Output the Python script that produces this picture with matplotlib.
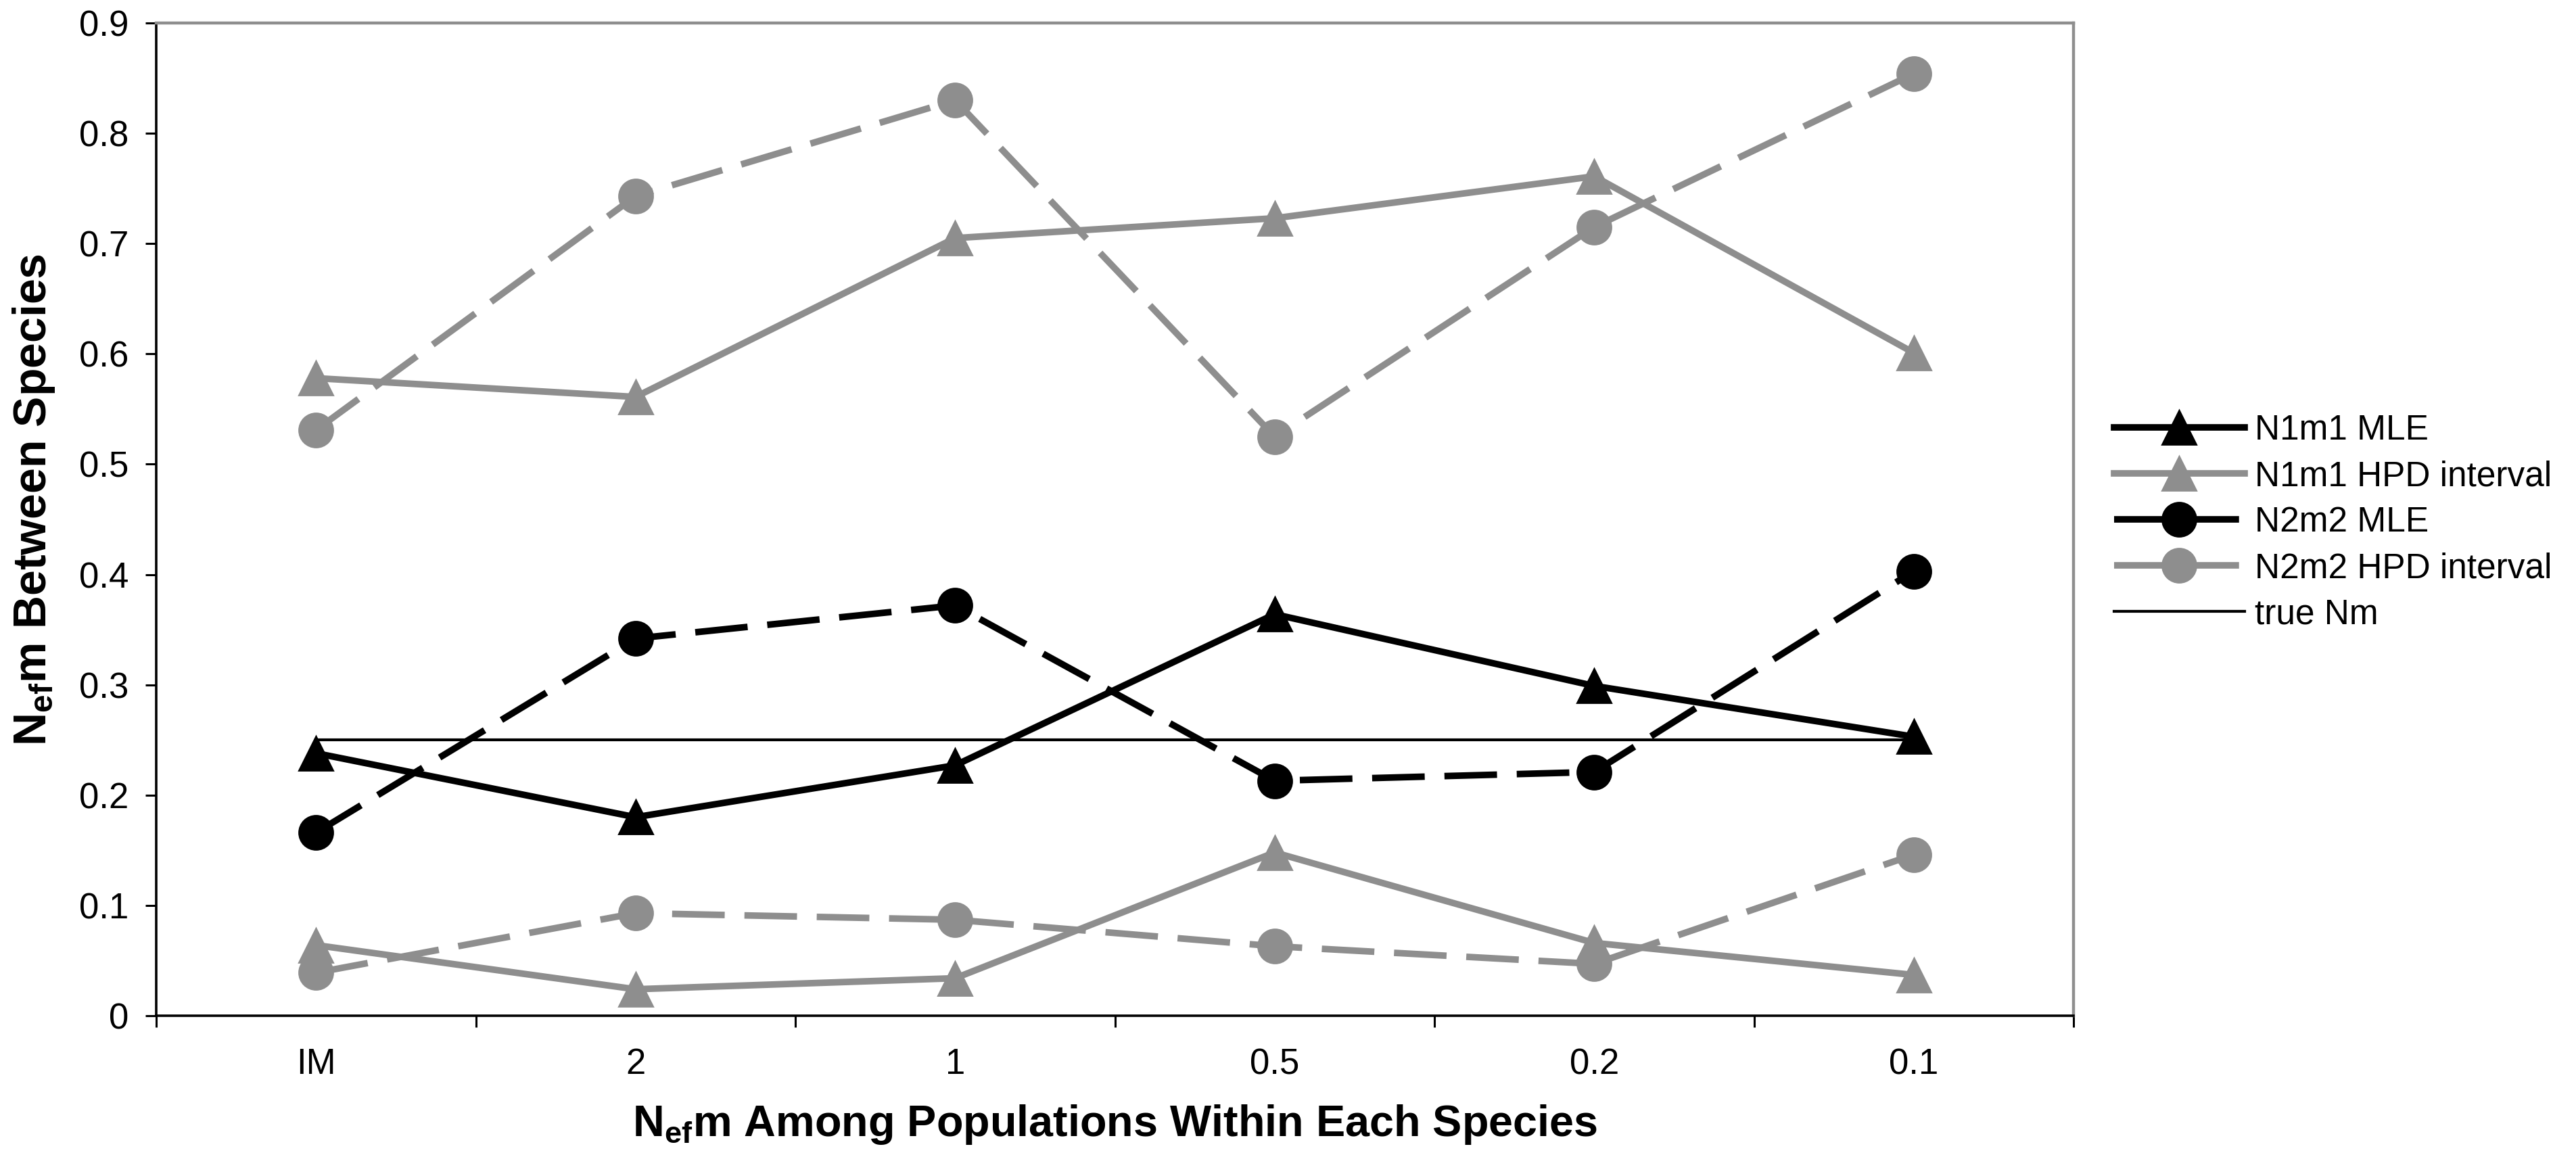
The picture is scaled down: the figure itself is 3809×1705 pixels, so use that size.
import matplotlib
matplotlib.use("Agg")
import matplotlib.pyplot as plt

plt.rcParams['font.family'] = ['Liberation Sans', 'DejaVu Sans']
plt.rcParams['mathtext.fontset'] = 'custom'
plt.rcParams['mathtext.rm'] = 'Liberation Sans'
plt.rcParams['mathtext.bf'] = 'Liberation Sans:bold'
plt.rcParams['mathtext.it'] = 'Liberation Sans:italic'

# Scenarios of gene flow among populations within each species
categories = ["IM", "2", "1", "0.5", "0.2", "0.1"]

n1m1_mle = [0.238, 0.180, 0.227, 0.364, 0.299, 0.253]
n1m1_hpd_upper = [0.578, 0.561, 0.705, 0.723, 0.761, 0.601]
n1m1_hpd_lower = [0.064, 0.024, 0.034, 0.148, 0.066, 0.037]

n2m2_mle = [0.166, 0.342, 0.372, 0.213, 0.221, 0.403]
n2m2_hpd_upper = [0.531, 0.743, 0.830, 0.525, 0.715, 0.854]
n2m2_hpd_lower = [0.039, 0.093, 0.087, 0.063, 0.047, 0.146]

true_nm = [0.25, 0.25, 0.25, 0.25, 0.25, 0.25]

y_ticks = [0, 0.1, 0.2, 0.3, 0.4, 0.5, 0.6, 0.7, 0.8, 0.9]
y_tick_labels = ["0", "0.1", "0.2", "0.3", "0.4", "0.5", "0.6", "0.7", "0.8", "0.9"]

GRAY = "#8e8e8e"
LW = 3.5
MS = 18
DASH = (0, (8, 3))

fig = plt.figure(figsize=(3809 / 200, 1705 / 200), dpi=200)
ax = fig.add_axes([231 / 3809, 1 - 1502 / 1705, (3066 - 231) / 3809, (1502 - 34) / 1705])

x = list(range(len(categories)))

ax.plot(x, n1m1_mle, color="black", lw=LW, marker="^", ms=MS, mec="black", mfc="black",
        label="N1m1 MLE", zorder=3)
ax.plot(x, n1m1_hpd_upper, color=GRAY, lw=LW, marker="^", ms=MS, mec=GRAY, mfc=GRAY,
        label="N1m1 HPD interval", zorder=3)
ax.plot(x, n1m1_hpd_lower, color=GRAY, lw=LW, marker="^", ms=MS, mec=GRAY, mfc=GRAY,
        zorder=3)
ax.plot(x, n2m2_mle, color="black", lw=LW, ls=DASH, marker="o", ms=MS, mec="black",
        mfc="black", label="N2m2 MLE", zorder=3)
ax.plot(x, n2m2_hpd_upper, color=GRAY, lw=LW, ls=DASH, marker="o", ms=MS, mec=GRAY,
        mfc=GRAY, label="N2m2 HPD interval", zorder=3)
ax.plot(x, n2m2_hpd_lower, color=GRAY, lw=LW, ls=DASH, marker="o", ms=MS, mec=GRAY,
        mfc=GRAY, zorder=3)
ax.plot(x, true_nm, color="black", lw=1.5, label="true Nm", zorder=4)

ax.set_xlim(-0.5, len(categories) - 0.5)
ax.set_ylim(0, 0.9)

# category labels centred, tick marks on the category boundaries
ax.set_xticks(x)
ax.set_xticklabels(categories)
ax.tick_params(axis="x", which="major", length=0, pad=17, labelsize=19)
ax.set_xticks([i - 0.5 for i in range(len(categories) + 1)], minor=True)
ax.tick_params(axis="x", which="minor", length=6, width=1.1, direction="out", color="black")

ax.set_yticks(y_ticks)
ax.set_yticklabels(y_tick_labels)
ax.tick_params(axis="y", length=5.8, width=1.1, direction="out", pad=9, labelsize=19)

for side in ("left", "bottom"):
    ax.spines[side].set_color("black")
    ax.spines[side].set_linewidth(1.3)
for side in ("top", "right"):
    ax.spines[side].set_color(GRAY)
    ax.spines[side].set_linewidth(1.6)

ax.set_xlabel(r"$\mathbf{N_{ef}}$m Among Populations Within Each Species",
              fontsize=23.3, fontweight="bold")
ax.xaxis.set_label_coords(0.5, -0.11)
ax.xaxis.label.set_verticalalignment("center")

ax.set_ylabel(r"$\mathbf{N_{ef}}$m Between Species", fontsize=24.5, fontweight="bold")
ax.yaxis.set_label_coords(-0.064, 0.52)
ax.yaxis.label.set_verticalalignment("center")

leg = fig.legend(loc="upper left", bbox_to_anchor=(3126 / 3809, 1 - 612 / 1705),
                 frameon=False, fontsize=18.5, handlelength=3.75, handletextpad=0.3,
                 labelspacing=0.37, borderpad=0, borderaxespad=0, markerscale=1.0)

fig.savefig("out.png", dpi=200, facecolor="white")
